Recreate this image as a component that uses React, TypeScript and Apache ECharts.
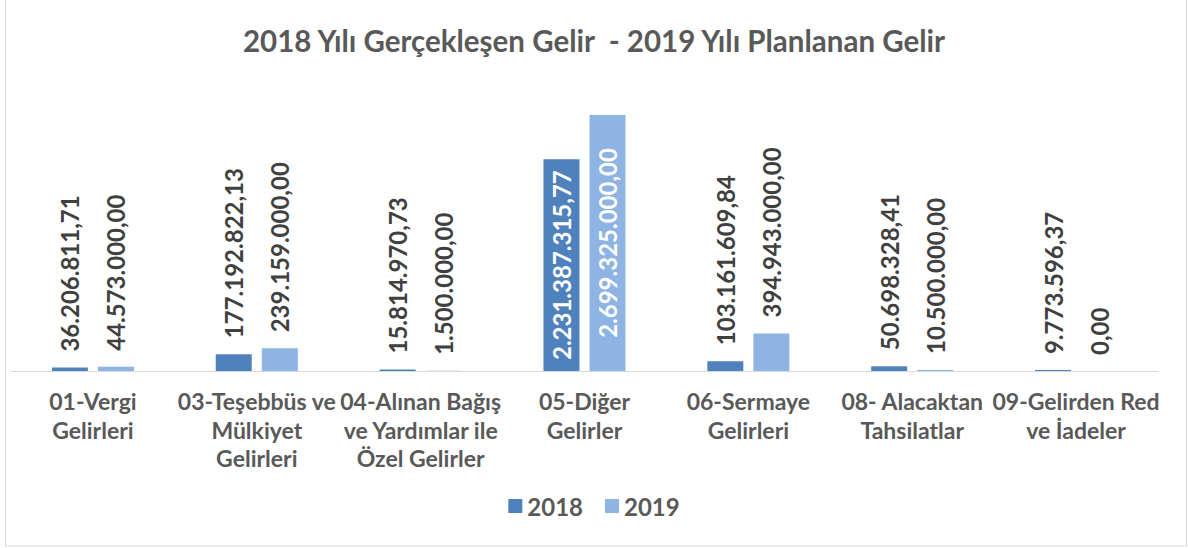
import React, { useEffect, useRef } from "react";
import * as echarts from "echarts";

const categories = [
  "01-Vergi\nGelirleri",
  "03-Teşebbüs ve\nMülkiyet\nGelirleri",
  "04-Alınan Bağış\nve Yardımlar ile\nÖzel Gelirler",
  "05-Diğer\nGelirler",
  "06-Sermaye\nGelirleri",
  "08- Alacaktan\nTahsilatlar",
  "09-Gelirden Red\nve İadeler",
];
const values2018 = [36206811.71, 177192822.13, 15814970.73, 2231387315.77, 103161609.84, 50698328.41, 9773596.37];
const values2019 = [44573000, 239159000, 1500000, 2699325000, 394943000, 10500000, 0];
const insideIndex2018 = [3];
const insideIndex2019 = [3];

const FONT = "Lato, 'Noto Sans', sans-serif";

function fmt(v: number): string {
  const [i, d] = v.toFixed(2).split(".");
  return i.replace(/\B(?=(\d{3})+(?!\d))/g, ".") + "," + d;
}

function buildData(vals: number[], inside: number[]) {
  return vals.map((v, i) =>
    inside.includes(i)
      ? {
          value: v,
          label: {
            position: "inside",
            color: "#ffffff",
            align: "center",
            verticalAlign: "middle",
          },
        }
      : v
  );
}

export default function App() {
  const ref = useRef<HTMLDivElement>(null);
  useEffect(() => {
    if (!ref.current) return;
    const chart = echarts.init(ref.current, undefined, { renderer: "svg" });
    const labelCfg = {
      show: true,
      position: "top",
      rotate: 90,
      align: "left",
      verticalAlign: "middle",
      distance: 16,
      color: "#404040",
      fontFamily: FONT,
      fontWeight: "bold",
      fontSize: 24,
      formatter: (p: any) => fmt(p.value),
    };
    chart.setOption({
      animation: false,
      backgroundColor: "#ffffff",
      title: {
        text: "2018 Yılı Gerçekleşen Gelir  - 2019 Yılı Planlanan Gelir",
        left: "center",
        top: 20,
        textStyle: {
          color: "#595959",
          fontFamily: FONT,
          fontWeight: "bold",
          fontSize: 29.5,
        },
      },
      legend: {
        bottom: 25,
        left: "center",
        itemWidth: 14,
        itemHeight: 14,
        itemGap: 22,
        icon: "rect",
        textStyle: {
          color: "#595959",
          fontFamily: FONT,
          fontWeight: "bold",
          fontSize: 24,
        },
        data: ["2018", "2019"],
      },
      grid: { left: 11, right: 30, top: 86.4, bottom: 177, containLabel: false },
      xAxis: {
        type: "category",
        data: categories,
        axisLine: { show: true, lineStyle: { color: "#d9d9d9", width: 1 } },
        axisTick: { show: false },
        axisLabel: {
          interval: 0,
          margin: 16,
          color: "#595959",
          fontFamily: FONT,
          fontWeight: "bold",
          fontSize: 23,
          lineHeight: 28.5,
        },
      },
      yAxis: {
        type: "value",
        min: 0,
        max: 3000000000,
        show: false,
        splitLine: { show: false },
      },
      series: [
        {
          name: "2018",
          type: "bar",
          barWidth: 36,
          barGap: "28%",
          itemStyle: { color: "#4F81BD" },
          label: labelCfg,
          data: buildData(values2018, insideIndex2018),
        },
        {
          name: "2019",
          type: "bar",
          barWidth: 36,
          barGap: "28%",
          itemStyle: { color: "#8EB4E3" },
          label: labelCfg,
          data: buildData(values2019, insideIndex2019),
        },
      ],
      graphic: [
        {
          type: "rect",
          shape: { x: 5.5, y: -2, width: 1181, height: 548 },
          style: { fill: "none", stroke: "#d9d9d9", lineWidth: 1 },
          silent: true,
        },
      ],
    });
    return () => chart.dispose();
  }, []);
  return (
    <div
      ref={ref}
      style={{ position: "absolute", left: 0, top: 0, width: 1188, height: 548 }}
    />
  );
}
